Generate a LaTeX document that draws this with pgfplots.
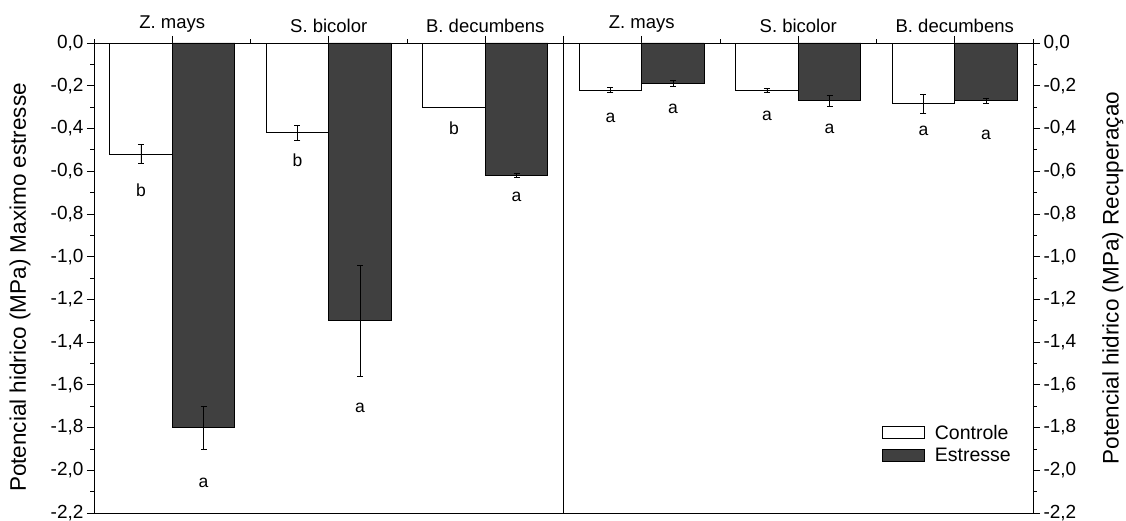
\documentclass[border=0pt]{standalone}
\usepackage{pgfplots}
\pgfplotsset{compat=1.18}
\usepackage{pgfplotstable}
\usepackage{fontspec}
\setmainfont{Liberation Sans}
\definecolor{darkbar}{HTML}{404040}

\pgfplotstableread{
x   y      e
0.3 -0.52  0.045
1.3 -0.42  0.035
2.3 -0.30  0.000
3.3 -0.22  0.012
4.3 -0.22  0.010
5.3 -0.285 0.045
}\controle

\pgfplotstableread{
x   y      e
0.7 -1.80  0.100
1.7 -1.30  0.260
2.7 -0.62  0.010
3.7 -0.19  0.014
4.7 -0.27  0.025
5.7 -0.27  0.013
}\estresse

\pgfplotstableread{
x   y     l
0.3 -0.69 b
0.7 -2.06 a
1.3 -0.55 b
1.7 -1.71 a
2.3 -0.40 b
2.7 -0.72 a
3.3 -0.35 a
3.7 -0.31 a
4.3 -0.34 a
4.7 -0.40 a
5.3 -0.41 a
5.7 -0.43 a
}\letras

\pgfplotsset{
 common/.style={
  scale only axis, width=939pt, height=470pt, at={(0pt,0pt)}, anchor=south west,
  xmin=0, xmax=6, ymin=-2.2, ymax=0,
  ytick={-2.2,-2.0,-1.8,-1.6,-1.4,-1.2,-1.0,-0.8,-0.6,-0.4,-0.2,0},
  minor ytick={-2.1,-1.9,-1.7,-1.5,-1.3,-1.1,-0.9,-0.7,-0.5,-0.3,-0.1},
  tick align=outside, major tick length=7pt, minor tick length=3.5pt,
  /pgf/number format/.cd, assume math mode=true, use comma, fixed, fixed zerofill, precision=1, /pgfplots/.cd,
  y tick label style={font=\fontsize{19}{22}\selectfont},
  axis line style={line width=0.9pt},
  every tick/.style={black, line width=0.8pt},
 }
}

\begin{document}
\begin{tikzpicture}
\useasboundingbox (-94pt,-8pt) rectangle (1032pt,513pt);
\begin{axis}[common,
  xtick={0.5,1.5,2.5,3.5,4.5,5.5},
  xticklabels={Z. mays, S. bicolor, B. decumbens, Z. mays, S. bicolor, B. decumbens},
  minor xtick={0,1,2,3,4,5,6},
  xtick pos=right, xticklabel pos=right,
  x tick label style={font=\fontsize{18.5}{21}\selectfont},
  ytick pos=left,
  ylabel={Potencial hidrico (MPa) Maximo estresse},
  ylabel style={font=\fontsize{22.5}{26}\selectfont, at={(axis description cs:-0.0788,0.48)}, anchor=center},
  extra x ticks={3}, extra x tick labels={},
  extra x tick style={grid=major, major grid style={black, line width=0.8pt}},
  legend style={at={(axis description cs:0.839,0.192)}, anchor=north west, draw=none, fill=none,
    font=\fontsize{19.5}{23}\selectfont, row sep=3pt, inner sep=0pt,
    /tikz/every odd column/.append style={column sep=8pt}},
  legend cell align=left,
  legend image code/.code={\draw[#1, line width=0.8pt] (0pt,-6pt) rectangle (42pt,6pt);},
]
\addplot[ybar, bar width=0.4, bar shift=0pt, fill=white, draw=black, line width=0.8pt,
  error bars/.cd, y dir=both, y explicit,
  error bar style={black, line width=0.7pt},
  error mark options={rotate=90, mark size=3pt, line width=0.7pt, black}]
  table[x=x, y=y, y error=e] {\controle};
\addlegendentry{Controle}
\addplot[ybar, bar width=0.4, bar shift=0pt, fill=darkbar, draw=black, line width=0.8pt,
  error bars/.cd, y dir=both, y explicit,
  error bar style={black, line width=0.7pt},
  error mark options={rotate=90, mark size=3pt, line width=0.7pt, black}]
  table[x=x, y=y, y error=e] {\estresse};
\addlegendentry{Estresse}
\addplot[only marks, mark=none, forget plot, nodes near coords, point meta=explicit symbolic,
  every node near coord/.append style={anchor=center, text=black, font=\fontsize{17.5}{20}\selectfont}]
  table[x=x, y=y, meta=l] {\letras};
\end{axis}
\begin{axis}[common,
  xtick=\empty,
  ytick pos=right, yticklabel pos=right,
  ylabel={Potencial hidrico (MPa) Recuperaçao},
  ylabel style={font=\fontsize{22.5}{26}\selectfont, at={(axis description cs:1.085,0.5)}, anchor=center},
]
\addplot[draw=none, forget plot] coordinates {(0,0)};
\end{axis}
\end{tikzpicture}
\end{document}
